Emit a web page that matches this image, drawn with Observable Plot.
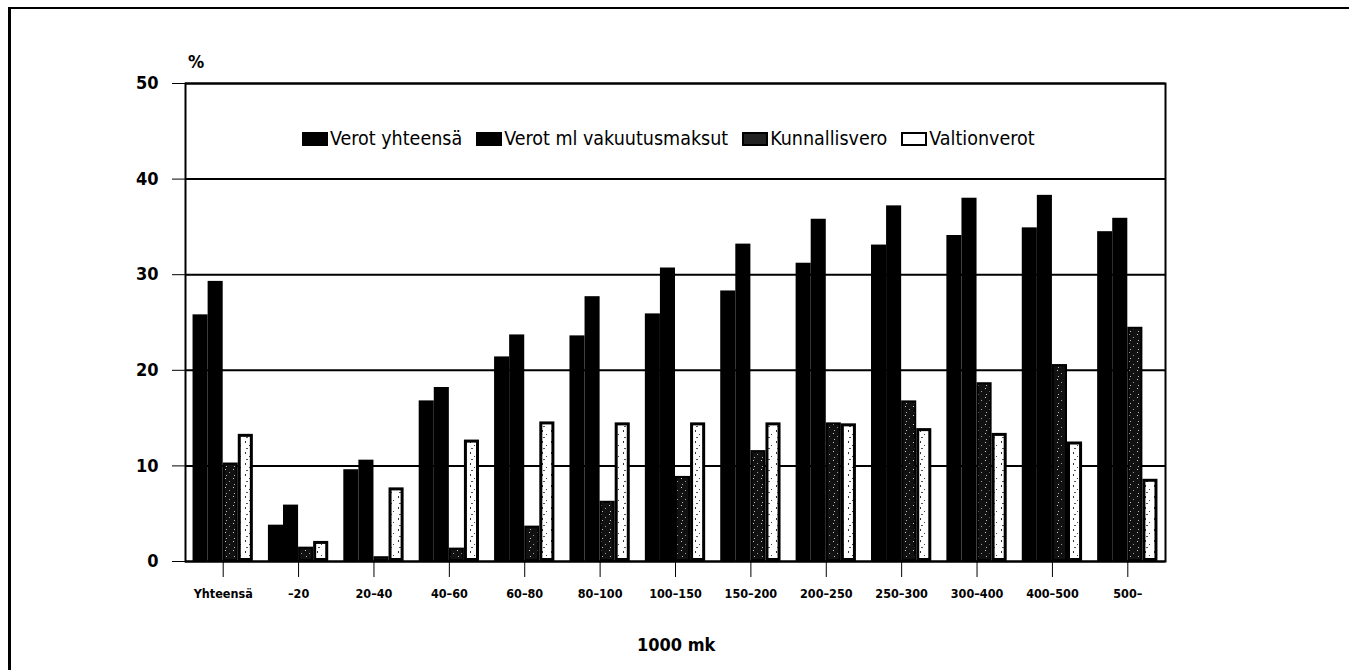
<!DOCTYPE html>
<html>
<head>
<meta charset="utf-8">
<script src="https://cdn.jsdelivr.net/npm/d3@7"></script>
<script src="https://cdn.jsdelivr.net/npm/@observablehq/plot@0.6"></script>
<style>
  html, body { margin: 0; padding: 0; background: #fff; }
  body { width: 1349px; height: 670px; position: relative; overflow: hidden;
         font-family: "Liberation Sans Narrow", "DejaVu Sans Condensed", "Roboto Condensed", "Liberation Sans", sans-serif; font-stretch: condensed; color: #000; }
  #border { position: absolute; left: 8px; top: 7px; width: 1400px; height: 700px;
            border-top: 2px solid #000; border-left: 3px solid #000; }
  #chart { position: absolute; left: 0; top: 0; }
  #chart svg g[aria-label^="y-axis"] text { font-size: 18px; font-weight: bold; }
  #chart svg g[aria-label^="x-axis"] text { font-size: 12.5px; font-weight: bold; }
  .lbl { position: absolute; font-size: 18px; font-weight: bold; white-space: nowrap; }
  #legend { position: absolute; left: 302px; top: 127px; display: flex; align-items: center; gap: 14px;
            font-size: 19.5px; white-space: nowrap; }
  #legend .item { display: flex; align-items: center; }
  #legend .sw { display: inline-block; width: 26px; height: 14px; box-sizing: border-box; margin-right: 2px; }
</style>
</head>
<body>
<svg width="0" height="0" style="position:absolute">
  <defs>
    <pattern id="kunn" width="8" height="9" patternUnits="userSpaceOnUse">
      <rect width="8" height="9" fill="#111"/>
      <rect x="1" y="1" width="1" height="1" fill="#ccc"/>
      <rect x="5" y="4" width="1" height="1" fill="#999"/>
      <rect x="2" y="7" width="1" height="1" fill="#bbb"/>
    </pattern>
    <pattern id="valt" width="9" height="11" patternUnits="userSpaceOnUse">
      <rect width="9" height="11" fill="#fff"/>
      <rect x="2" y="1" width="1" height="2" fill="#333"/>
      <rect x="6" y="5" width="1" height="1" fill="#444"/>
      <rect x="3" y="8" width="2" height="1" fill="#555"/>
    </pattern>
  </defs>
</svg>
<div id="border"></div>
<div id="chart"></div>
<div class="lbl" style="left:188px; top:51px;">%</div>
<div class="lbl" style="left:637px; top:634px;">1000 mk</div>
<div id="legend">
  <span class="item"><span class="sw" style="background:#000"></span>Verot yhteensä</span>
  <span class="item"><span class="sw" style="background:#000"></span>Verot ml vakuutusmaksut</span>
  <span class="item"><span class="sw" style="background:#222; border:2px solid #000;"></span>Kunnallisvero</span>
  <span class="item"><span class="sw" style="background:#fff; border:2px solid #000;"></span>Valtionverot</span>
</div>
<script>
// ---- data ----
const categories = ["Yhteensä", "–20", "20–40", "40–60", "60–80", "80–100", "100–150", "150–200", "200–250", "250–300", "300–400", "400–500", "500–"];
const seriesNames = ["Verot yhteensä", "Verot ml vakuutusmaksut", "Kunnallisvero", "Valtionverot"];
const verotYhteensa = [25.8, 3.8, 9.6, 16.8, 21.4, 23.6, 25.9, 28.3, 31.2, 33.1, 34.1, 34.9, 34.5];
const verotMlVakuutusmaksut = [29.3, 5.9, 10.6, 18.2, 23.7, 27.7, 30.7, 33.2, 35.8, 37.2, 38.0, 38.3, 35.9];
const kunnallisvero = [10.3, 1.5, 0.5, 1.4, 3.7, 6.3, 8.9, 11.6, 14.5, 16.8, 18.7, 20.6, 24.5];
const valtionverot = [13.3, 2.1, 7.7, 12.7, 14.6, 14.5, 14.5, 14.5, 14.4, 13.9, 13.4, 12.5, 8.6];
const yTicks = [0, 10, 20, 30, 40, 50];

// ---- build long table ----
const seriesValues = [verotYhteensa, verotMlVakuutusmaksut, kunnallisvero, valtionverot];
const groupWidth = 0.8;            // fraction of a category slot covered by the group
const barW = groupWidth / seriesNames.length;
const table = [];
seriesValues.forEach((vals, s) => {
  vals.forEach((v, i) => {
    const x1 = i - groupWidth / 2 + s * barW;
    table.push({cat: categories[i], series: seriesNames[s], s, x1, x2: x1 + barW, value: v});
  });
});
const bySeries = s => d => d.s === s;

const plot = Plot.plot({
  width: 1349,
  height: 670,
  marginLeft: 185,
  marginRight: 184,
  marginTop: 83,
  marginBottom: 109,
  style: {background: "transparent", color: "#000", fontFamily: "'Liberation Sans Narrow', 'DejaVu Sans Condensed', 'Liberation Sans', sans-serif", overflow: "visible"},
  x: {
    type: "linear",
    domain: [-0.5, categories.length - 0.5],
    ticks: d3.range(categories.length),
    tickFormat: i => categories[i],
    tickSize: 16,
    tickPadding: 12,
    label: null
  },
  y: {
    domain: [0, 50],
    ticks: yTicks,
    tickSize: 13,
    tickPadding: 14,
    label: null
  },
  marks: [
    Plot.ruleY(yTicks, {stroke: "#000", strokeWidth: 2}),
    Plot.rectY(table, {filter: d => d.s < 2, x1: "x1", x2: "x2", y: "value", fill: "#000"}),
    Plot.rectY(table, {filter: bySeries(2), x1: "x1", x2: "x2", y: "value", fill: "url(#kunn)", stroke: "#000", strokeWidth: 2, inset: 1}),
    Plot.rectY(table, {filter: bySeries(3), x1: "x1", x2: "x2", y: "value", fill: "url(#valt)", stroke: "#000", strokeWidth: 3, inset: 1.5}),
    Plot.frame({stroke: "#000", strokeWidth: 2})
  ]
});
document.getElementById("chart").appendChild(plot);
</script>
</body>
</html>
